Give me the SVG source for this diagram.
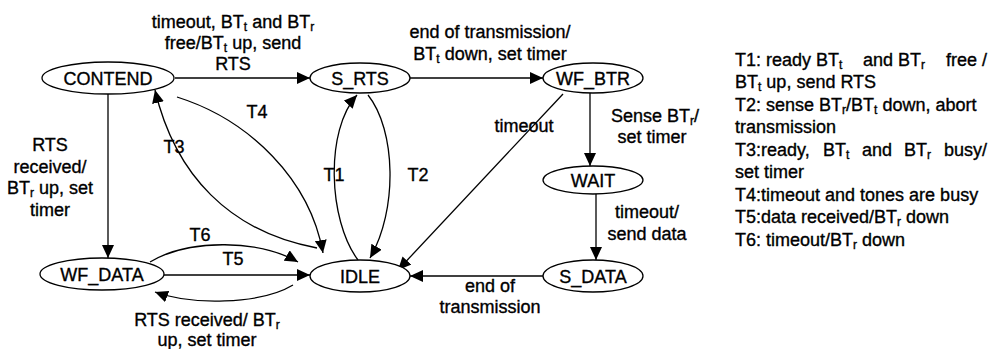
<svg xmlns="http://www.w3.org/2000/svg" width="991" height="349" viewBox="0 0 991 349">
  <style>
    text { font-family: "Liberation Sans", Arial, sans-serif; font-size: 18px; fill: #000; stroke: #000; stroke-width: 0.35; }
    .c { text-anchor: middle; }
    .sub { font-size: 12px; }
    .node ellipse { fill: #fff; stroke: #000; stroke-width: 1.3; }
    .edge { fill: none; stroke: #000; stroke-width: 1.3; }
  </style>
  <defs>
    <marker id="arrow" markerUnits="userSpaceOnUse" markerWidth="14" markerHeight="12" refX="13" refY="6" orient="auto">
      <path d="M0,0 L13,6 L0,12 Z" fill="#000"/>
    </marker>
  </defs>
  <rect width="991" height="349" fill="#fff"/>

  <!-- connectors -->
  <g id="connectors">
    <path class="edge" d="M175,78 L310,78" marker-end="url(#arrow)"/>
    <path class="edge" d="M410,78 L543,78" marker-end="url(#arrow)"/>
    <path class="edge" d="M108,94 L108,258" marker-end="url(#arrow)"/>
    <path class="edge" d="M590,93 L590,166" marker-end="url(#arrow)"/>
    <path class="edge" d="M596,194 L596,260" marker-end="url(#arrow)"/>
    <path class="edge" d="M543,276 L410,276" marker-end="url(#arrow)"/>
    <path class="edge" d="M563,94 L398,270" marker-end="url(#arrow)"/>
    <path class="edge" d="M163,275 L310,275" marker-end="url(#arrow)"/>
    <path class="edge" d="M150,262 C190,238 260,240 298,262" marker-end="url(#arrow)"/>
    <path class="edge" d="M293,285 C260,305 190,305 155,292" marker-end="url(#arrow)"/>
    <path class="edge" d="M317,248 C230,232 175,175 155,90" marker-end="url(#arrow)"/>
    <path class="edge" d="M177,97 C250,120 310,180 323,253" marker-end="url(#arrow)"/>
    <path class="edge" d="M358,260 C328,220 325,130 357,95" marker-end="url(#arrow)"/>
    <path class="edge" d="M368,95 C396,130 398,210 370,258" marker-end="url(#arrow)"/>
  </g>

  <!-- states -->
  <g id="contend" class="node">
    <ellipse cx="108" cy="78" rx="66" ry="16"/>
    <text class="c" x="108" y="84.5">CONTEND</text>
  </g>
  <g id="s_rts" class="node">
    <ellipse cx="360" cy="78" rx="50" ry="15"/>
    <text class="c" x="360" y="84.5">S_RTS</text>
  </g>
  <g id="wf_btr" class="node">
    <ellipse cx="593" cy="78" rx="50" ry="15"/>
    <text class="c" x="593" y="84.5">WF_BTR</text>
  </g>
  <g id="wait" class="node">
    <ellipse cx="593" cy="180" rx="50" ry="14"/>
    <text class="c" x="593" y="186.5">WAIT</text>
  </g>
  <g id="s_data" class="node">
    <ellipse cx="593" cy="276" rx="50" ry="16"/>
    <text class="c" x="593" y="282.5">S_DATA</text>
  </g>
  <g id="idle" class="node">
    <ellipse cx="360" cy="276" rx="50" ry="16"/>
    <text class="c" x="360" y="282.5">IDLE</text>
  </g>
  <g id="wf_data" class="node">
    <ellipse cx="102" cy="274" rx="62" ry="16"/>
    <text class="c" x="102" y="280.5">WF_DATA</text>
  </g>

  <!-- transition labels -->
  <g id="labels">
    <text class="c" x="233" y="28">timeout, BT<tspan class="sub" dy="3">t</tspan><tspan dy="-3"> and BT</tspan><tspan class="sub" dy="3">r</tspan></text>
    <text class="c" x="233" y="49">free/BT<tspan class="sub" dy="3">t</tspan><tspan dy="-3"> up, send</tspan></text>
    <text class="c" x="233" y="70">RTS</text>

    <text class="c" x="490" y="38">end of transmission/</text>
    <text class="c" x="490" y="60">BT<tspan class="sub" dy="3">t</tspan><tspan dy="-3"> down, set timer</tspan></text>

    <text class="c" x="655" y="122">Sense BT<tspan class="sub" dy="3">r</tspan><tspan dy="-3">/</tspan></text>
    <text class="c" x="652" y="143">set timer</text>

    <text class="c" x="524" y="132">timeout</text>

    <text class="c" x="50" y="151">RTS</text>
    <text class="c" x="50" y="173">received/</text>
    <text class="c" x="50" y="194">BT<tspan class="sub" dy="3">r</tspan><tspan dy="-3"> up, set</tspan></text>
    <text class="c" x="50" y="216">timer</text>

    <text class="c" x="200" y="241">T6</text>
    <text class="c" x="233" y="265">T5</text>

    <text class="c" x="207" y="326">RTS received/ BT<tspan class="sub" dy="3">r</tspan></text>
    <text class="c" x="207" y="346">up, set timer</text>

    <text class="c" x="490" y="292">end of</text>
    <text class="c" x="490" y="313">transmission</text>

    <text class="c" x="647" y="218">timeout/</text>
    <text class="c" x="647" y="240">send data</text>

    <text class="c" x="334" y="181">T1</text>
    <text class="c" x="418" y="181">T2</text>
    <text class="c" x="174" y="153">T3</text>
    <text class="c" x="257" y="118">T4</text>
  </g>

  <!-- legend -->
  <g id="legend">
    <text x="735" y="66">T1: ready BT<tspan class="sub" dy="3">t</tspan><tspan x="863" dy="-3">and BT</tspan><tspan class="sub" dy="3">r</tspan><tspan x="946" dy="-3">free /</tspan></text>
    <text x="735" y="88">BT<tspan class="sub" dy="3">t</tspan><tspan dy="-3"> up, send RTS</tspan></text>
    <text x="735" y="111">T2: sense BT<tspan class="sub" dy="3">r</tspan><tspan dy="-3">/BT</tspan><tspan class="sub" dy="3">t</tspan><tspan dy="-3"> down, abort</tspan></text>
    <text x="735" y="133">transmission</text>
    <text x="735" y="156">T3:ready,<tspan x="823">BT</tspan><tspan class="sub" dy="3">t</tspan><tspan x="862" dy="-3">and</tspan><tspan x="904">BT</tspan><tspan class="sub" dy="3">r</tspan><tspan x="944" dy="-3">busy/</tspan></text>
    <text x="735" y="178">set timer</text>
    <text x="735" y="201">T4:timeout and tones are busy</text>
    <text x="735" y="223">T5:data received/BT<tspan class="sub" dy="3">r</tspan><tspan dy="-3"> down</tspan></text>
    <text x="735" y="246">T6: timeout/BT<tspan class="sub" dy="3">r</tspan><tspan dy="-3"> down</tspan></text>
  </g>
</svg>
